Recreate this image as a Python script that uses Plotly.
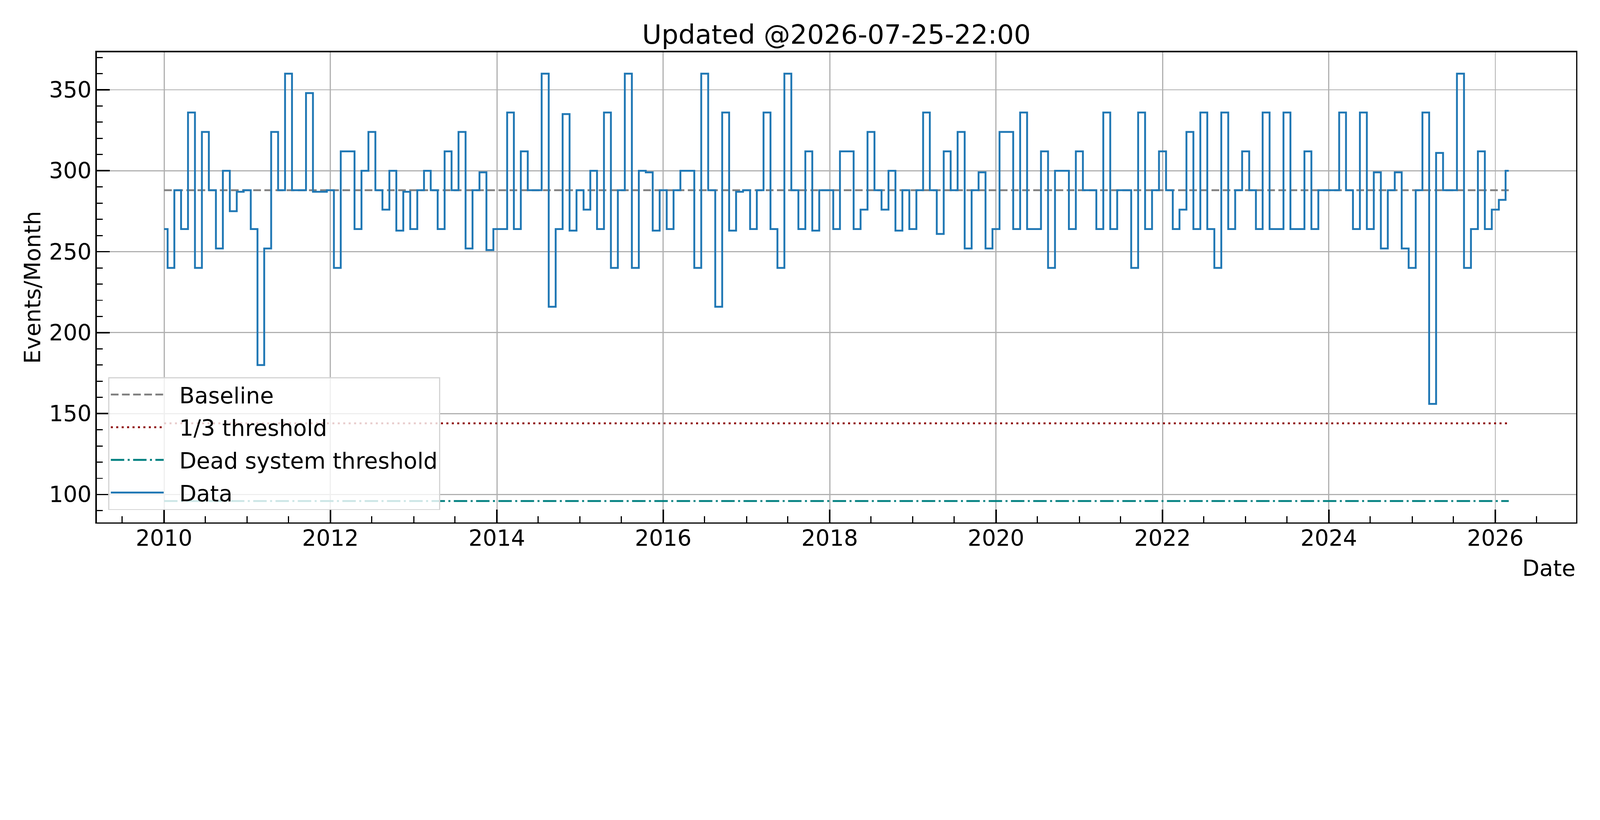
import pandas as pd
import plotly.graph_objects as go

# ---- data (monthly event counts) ----
START_MONTH = "2010-01-01"
y2010 = [264, 240, 288, 264, 336, 240, 324, 288, 252, 300, 275, 287]
y2011 = [288, 264, 180, 252, 324, 288, 360, 288, 288, 348, 287, 287]
y2012 = [288, 240, 312, 312, 264, 300, 324, 288, 276, 300, 263, 287]
y2013 = [264, 288, 300, 288, 264, 312, 288, 324, 252, 288, 299, 251]
y2014 = [264, 264, 336, 264, 312, 288, 288, 360, 216, 264, 335, 263]
y2015 = [288, 276, 300, 264, 336, 240, 288, 360, 240, 300, 299, 263]
y2016 = [288, 264, 288, 300, 300, 240, 360, 288, 216, 336, 263, 287]
y2017 = [288, 264, 288, 336, 264, 240, 360, 288, 264, 312, 263, 288]
y2018 = [288, 264, 312, 312, 264, 276, 324, 288, 276, 300, 263, 288]
y2019 = [264, 288, 336, 288, 261, 312, 288, 324, 252, 288, 299, 252]
y2020 = [264, 324, 324, 264, 336, 264, 264, 312, 240, 300, 300, 264]
y2021 = [312, 288, 288, 264, 336, 264, 288, 288, 240, 336, 264, 288]
y2022 = [312, 288, 264, 276, 324, 264, 336, 264, 240, 336, 264, 288]
y2023 = [312, 288, 264, 336, 264, 264, 336, 264, 264, 312, 264, 288]
y2024 = [288, 288, 336, 288, 264, 336, 264, 299, 252, 288, 299, 252]
y2025 = [240, 288, 336, 156, 311, 288, 288, 360, 240, 264, 312, 264]
y2026 = [276, 282, 300]

BASELINE = 288
ONE_THIRD_THRESHOLD = 144
DEAD_THRESHOLD = 96

TITLE = "Updated @2026-07-25-22:00"
Y_LABEL = "Events/Month"
X_LABEL = "Date"
LEGEND_NAMES = ["Baseline", "1/3 threshold", "Dead system threshold", "Data"]

values = (y2010 + y2011 + y2012 + y2013 + y2014 + y2015 + y2016 + y2017 + y2018
          + y2019 + y2020 + y2021 + y2022 + y2023 + y2024 + y2025 + y2026)
dates = pd.date_range(START_MONTH, periods=len(values), freq="MS")
x_ends = [dates[0], dates[-1]]

FONT = "DejaVu Sans"
W, H = 5600, 2100
LW = 6.5
PAD = "\u00a0\u00a0"

fig = go.Figure()
fig.add_trace(go.Scatter(x=x_ends, y=[BASELINE] * 2, mode="lines", name=PAD + LEGEND_NAMES[0],
                         legendgroup="g1",
                         line=dict(color="#808080", width=LW, dash="27px,12px")))
fig.add_trace(go.Scatter(x=x_ends, y=[ONE_THIRD_THRESHOLD] * 2, mode="lines", name=PAD + LEGEND_NAMES[1],
                         legendgroup="g2",
                         line=dict(color="#8b0000", width=LW, dash="7px,12px")))
fig.add_trace(go.Scatter(x=x_ends, y=[DEAD_THRESHOLD] * 2, mode="lines", name=PAD + LEGEND_NAMES[2],
                         legendgroup="g3",
                         line=dict(color="#008080", width=LW, dash="47px,12px,7px,12px")))
fig.add_trace(go.Scatter(x=dates, y=values, mode="lines", name=PAD + LEGEND_NAMES[3], line_shape="hvh",
                         legendgroup="g4",
                         line=dict(color="#1f77b4", width=LW)))

# matplotlib-like 5% margins
span = dates[-1] - dates[0]
x_lo = dates[0] - span * 0.05
x_hi = dates[-1] + span * 0.05
y_min, y_max = DEAD_THRESHOLD, max(values)
y_pad = (y_max - y_min) * 0.05

axis_common = dict(
    showline=True, linecolor="black", linewidth=5, mirror=True,
    ticks="inside", tickcolor="black", tickwidth=4.5, ticklen=45,
    showgrid=True, gridcolor="#b0b0b0", gridwidth=3.5, zeroline=False,
    tickfont=dict(family=FONT, size=78, color="black"),
)

fig.update_xaxes(
    type="date", range=[x_lo, x_hi], tick0=START_MONTH, dtick="M24", tickformat="%Y",
    minor=dict(ticks="inside", ticklen=21, tickwidth=4, tickcolor="black",
               dtick="M6", tick0=START_MONTH, showgrid=False),
    ticklabelstandoff=-16,
    **axis_common,
)
fig.update_yaxes(
    range=[y_min - y_pad, y_max + y_pad], tick0=0, dtick=50,
    minor=dict(ticks="inside", ticklen=21, tickwidth=4, tickcolor="black",
               dtick=10, showgrid=False),
    title=dict(text=Y_LABEL, font=dict(family=FONT, size=78, color="black"), standoff=6),
    ticklabelstandoff=-2,
    **axis_common,
)

fig.add_annotation(text=X_LABEL, xref="paper", yref="paper", x=1, y=-0.097,
                   xanchor="right", yanchor="middle", showarrow=False,
                   font=dict(family=FONT, size=78, color="black"))

fig.update_layout(
    width=W, height=H,
    margin=dict(l=339, r=84, t=183, b=271, autoexpand=False),
    paper_bgcolor="white", plot_bgcolor="white",
    font=dict(family=FONT, size=78, color="black"),
    title=dict(text=TITLE, x=0.5, xref="paper", xanchor="center",
               y=1 - 121 / H, yref="container", yanchor="middle",
               font=dict(family=FONT, size=93, color="black")),
    legend=dict(x=0.0077, y=0.026, xanchor="left", yanchor="bottom",
                bgcolor="rgba(255,255,255,0.8)", bordercolor="#d4d4d4", borderwidth=4,
                font=dict(family=FONT, size=78, color="black"), itemwidth=185,
                traceorder="grouped", tracegroupgap=10),
    showlegend=True,
)

# fit the fixed-size figure into whatever CSS viewport the browser reports
POST = """
(function(){
  var W = %d, H = %d;
  var gd = document.getElementById('{plot_id}');
  var wrap = gd.parentElement;
  var s = Math.min(window.innerWidth / W, window.innerHeight / H);
  [document.documentElement, document.body].forEach(function(el){
    el.style.margin = '0'; el.style.padding = '0'; el.style.overflow = 'hidden';
    el.style.width = (W * s) + 'px'; el.style.height = (H * s) + 'px';
  });
  wrap.style.width = (W * s) + 'px';
  wrap.style.height = (H * s) + 'px';
  wrap.style.overflow = 'hidden';
  gd.style.transformOrigin = '0 0';
  gd.style.transform = 'scale(' + s + ')';
})();
""" % (W, H)

fig.write_html("out.html", post_script=POST, config={"displayModeBar": False})
